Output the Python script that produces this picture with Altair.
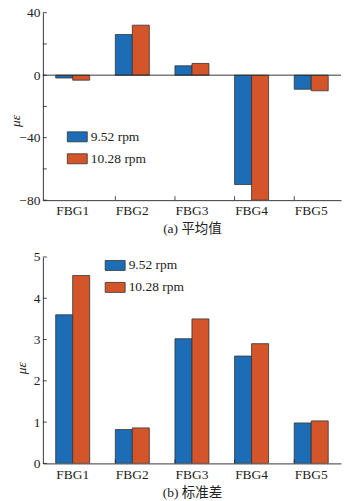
import altair as alt
import pandas as pd

categories = ["FBG1", "FBG2", "FBG3", "FBG4", "FBG5"]
series = ["9.52 rpm", "10.28 rpm"]
mean_952 = [-1.8, 26.0, 6.0, -70.0, -9.0]
mean_1028 = [-3.2, 32.0, 7.5, -80.0, -10.0]
std_952 = [3.6, 0.82, 3.02, 2.6, 0.98]
std_1028 = [4.55, 0.86, 3.5, 2.9, 1.03]
mean_ticks = [40, 20, 0, -20, -40, -60, -80]
std_ticks = [0, 1, 2, 3, 4, 5]
colors = ["#1c6db5", "#d4552a"]

SERIF = "'Liberation Serif', 'Noto Sans CJK SC', serif"
FS = 13.5

def make_df(a, b):
    rows = []
    for i, c in enumerate(categories):
        rows.append({"cat": c, "s": series[0], "v": a[i]})
        rows.append({"cat": c, "s": series[1], "v": b[i]})
    return pd.DataFrame(rows)

W = 299

def panel(df, ticks, dom, H, title, legx, legy, ytitle_x, ytitle_y, zero_rule, lpad):
    xenc = alt.X("cat:N", sort=categories,
                 scale=alt.Scale(paddingInner=0.43, paddingOuter=0.215),
                 axis=alt.Axis(title=title, labelAngle=0, tickSize=0,
                               labelPadding=lpad, titlePadding=5,
                               labelFont=SERIF, titleFont=SERIF,
                               labelFontSize=FS, titleFontSize=FS,
                               titleFontWeight="normal",
                               domainColor="#222", labelColor="#222",
                               titleColor="#222"))
    bars = alt.Chart(df).mark_bar(stroke="#333", strokeWidth=0.8, clip=True).encode(
        x=xenc,
        xOffset=alt.XOffset("s:N", sort=series),
        y=alt.Y("v:Q", scale=alt.Scale(domain=dom, nice=False, zero=False),
                axis=alt.Axis(values=ticks, tickSize=0, grid=False, labelPadding=3,
                              labelFont=SERIF, titleFont=SERIF,
                              labelFontSize=FS, titleFontSize=FS,
                              titleFontWeight="normal",
                              title="με", titleFontStyle="italic",
                              titleX=ytitle_x, titleY=ytitle_y,
                              titleBaseline="middle", titleAlign="center",
                              domainColor="#222", labelColor="#222",
                              titleColor="#222")),
        color=alt.Color("s:N", sort=series,
                        scale=alt.Scale(domain=series, range=colors),
                        legend=alt.Legend(title=None, orient="none",
                                          legendX=legx, legendY=legy,
                                          symbolType="M-1,-0.5L1,-0.5L1,0.5L-1,0.5Z",
                                          symbolSize=400, symbolStrokeColor="#333",
                                          symbolStrokeWidth=0.8, symbolOpacity=1,
                                          labelFontSize=FS, labelFont=SERIF,
                                          labelColor="#222", labelOffset=3,
                                          rowPadding=4, padding=0)),
    )
    # inward ticks on x axis at category boundaries
    xt = pd.DataFrame({"cat": categories[1:]})
    xticks = alt.Chart(xt).mark_rule(color="#222", strokeWidth=0.8).encode(
        x=alt.X("cat:N", sort=categories, bandPosition=0),
        y=alt.value(H), y2=alt.value(H - 4))
    yt = pd.DataFrame({"t": ticks})
    yticks = alt.Chart(yt).mark_rule(color="#222", strokeWidth=0.8).encode(
        y=alt.Y("t:Q"), x=alt.value(0), x2=alt.value(4))
    layers = [bars, xticks, yticks]
    if zero_rule:
        z = pd.DataFrame({"z": [0]})
        layers.append(alt.Chart(z).mark_rule(color="#222", strokeWidth=0.9).encode(y="z:Q"))
    return alt.layer(*layers).properties(width=W, height=H)

top = panel(make_df(mean_952, mean_1028), mean_ticks, [-80, 40], 188,
            "(a) 平均值", 24, 114, -27, 108, True, 3)
bottom = panel(make_df(std_952, std_1028), std_ticks, [0, 5], 207,
               "(b) 标准差", 62, -2, -21, 111, False, 4)

chart = alt.vconcat(top, bottom, spacing=57, bounds="flush").resolve_legend(
    color="independent"
).properties(
    padding={"left": 9, "top": 5, "right": 10, "bottom": 5},
    autosize=alt.AutoSizeParams(type="pad"),
    background="white",
).configure_view(stroke=None).configure_axis(
    domainWidth=0.9
)

chart.save("out.html", embed_options={"renderer": "svg", "actions": False})
